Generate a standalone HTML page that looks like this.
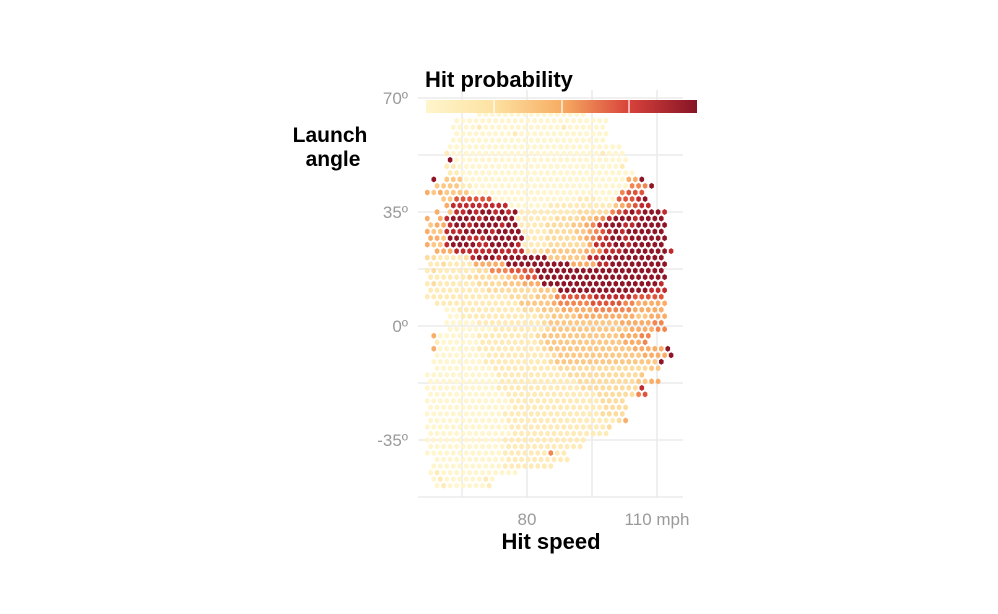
<!DOCTYPE html>
<html><head><meta charset="utf-8">
<style>
body{margin:0;background:#fff;}
svg{display:block;font-family:"Liberation Sans",sans-serif;}
</style></head>
<body>
<svg id="chart" width="998" height="614" viewBox="0 0 998 614">
<defs>
<linearGradient id="cb" x1="0" x2="1" y1="0" y2="0">
<stop offset="0" stop-color="#fff5cc"/><stop offset="0.25" stop-color="#fde2a2"/>
<stop offset="0.5" stop-color="#f7ad63"/><stop offset="0.75" stop-color="#d8423a"/>
<stop offset="1" stop-color="#861426"/></linearGradient>
</defs>
<g id="grid"></g>
<g id="hexes"></g>
<g>
<text x="425" y="87" font-size="22" font-weight="bold" fill="#000">Hit probability</text>
<rect x="426" y="100" width="271" height="13" fill="url(#cb)"/>
<line x1="494" x2="494" y1="100" y2="113" stroke="#fff" stroke-width="1.2"/>
<line x1="562" x2="562" y1="100" y2="113" stroke="#fff" stroke-width="1.2"/>
<line x1="629" x2="629" y1="100" y2="113" stroke="#fff" stroke-width="1.2"/>
</g>
<g id="axes"></g>
<text x="330" y="142" font-size="21" font-weight="bold" text-anchor="middle">Launch</text>
<text x="333" y="166" font-size="21" font-weight="bold" text-anchor="middle">angle</text>
<text x="551" y="549" font-size="22" font-weight="bold" text-anchor="middle">Hit speed</text>
</svg>
<script>
const xTicksMajor=[80,110];
const xTickLabels=["80","110 mph"];
const xTicksMinor=[65,95];
const yTicksMajor=[70,35,0,-35];
const yTickLabels=["70º","35º","0º","-35º"];
const yTicksMinor=[52.5,17.5,-17.5,-52.5];
const colStart=57, colStep=1.5, rowStart=65, rowStep=2;
const levelColors=["none","#fff6d0","#feebb8","#fddca0","#fcc885","#f9ad68","#f28650","#de553c","#bf2a2e","#8e1426"];
const rows=[
"........11111111111111111",
"....111111111111111111111111",
"....111121111111111112111111",
"....111111111211111111111111",
"....111111111111111111111111",
"...111111111111111111111111111",
"...2111111111111111111111112111",
"...9111111111111111111111111111",
"...2211111111111111111111111112",
"...22111111111111111111111111111",
".9.4441111111111111111111111111559",
".4444221111111111111111111111116669",
"5454444111111111111111111111116777",
"..44777777111111111111122211177789",
"...58888888881111112222222222456788",
".5.4889899898922222222233333678989998",
"5.58999989999922222233334456899989999",
"4558998999989922223333445689998899999",
"5448889999899992222333344567898999999",
"5549998889999992223333345678998999999",
"5448999988999982222333333588899899999",
".5558888889888833344444455688899999998",
"3322223899989999999444444889999999999",
"2232222555559999999999555588999999999",
"2322222233666777799999999999999999999",
"2222223333334567799999999999999999999",
"2322222233334445559999999999999999998",
"2222222223333333344499999999999999888",
"2222222222222333344467777788888877777",
".222222222222244444566666777776655555",
"...1122222222223334445555566666655555",
"...1122222222222233444455555555544555",
"...1111122222222223444444444445555566",
"...1111111222222223444444444444555566",
".5111111222222222344444444444455566",
".211111122222222234444444444445556",
".5111111222222222234444444444444555559",
".1111111122222222223444444444444455559",
".111111112222222222344444444444444449",
".11111111122222222223333333333333344",
"1111111111122222222222333333333334",
"111111111112222222222223333333334455",
"1111111111122222222222223333333338",
"1111111111112222222222222233333367",
"1111111111111222222222222223333",
"1111111111111222222222222223333",
"1111111111112222222222222223333",
"1111111111112222222222222222235",
"11111111111112222222222222223",
"1111111111111222222222222222",
"1111111111112222222222222",
"111111111111222222222222",
"1111111111112222222622",
".111111111112222222222",
".1111111111122222222",
"12111111111111",
".1211111121",
".121111112"
];
const NS="http://www.w3.org/2000/svg";
function xs(m){return 527+(m-80)*(130/30);}
function ys(a){return 326-a*(114/35);}
const grid=document.getElementById('grid');
function line(x1,y1,x2,y2,w,name){
  const l=document.createElementNS(NS,'line');
  l.setAttribute('x1',x1);l.setAttribute('y1',y1);l.setAttribute('x2',x2);l.setAttribute('y2',y2);
  l.setAttribute('stroke','#ebebeb');l.setAttribute('stroke-width',w);
  
  
  grid.appendChild(l);
}
xTicksMajor.concat(xTicksMinor).forEach(v=>line(xs(v),90,xs(v),498,1.6,'x-gridline'));
yTicksMajor.concat(yTicksMinor).forEach(v=>line(418,ys(v),683,ys(v),1.6,'y-gridline'));
const axes=document.getElementById('axes');
function txt(x,y,s,anchor,name){
  const t=document.createElementNS(NS,'text');
  t.setAttribute('x',x);t.setAttribute('y',y);t.setAttribute('font-size','17');
  t.setAttribute('fill','#9a9a9a');t.setAttribute('text-anchor',anchor);
  t.textContent=s;
  
  
  axes.appendChild(t);
}
xTicksMajor.forEach((v,i)=>txt(xs(v),525,xTickLabels[i],'middle','x-tick-label'));
yTicksMajor.forEach((v,i)=>txt(408,ys(v)+6,yTickLabels[i],'end','y-tick-label'));
const hg=document.getElementById('hexes');
rows.forEach((r,i)=>{
  const a=rowStart-i*rowStep;
  const off=(i%2)?colStep/2:0;
  for(let j=0;j<r.length;j++){
    const lv=parseInt(r[j]);
    if(!(lv>0))continue;
    const m=colStart+j*colStep+off;
    const cx=xs(m),cy=ys(a);
    const rx=2.3,ry=3.0;
    const pts=[[cx,cy-ry],[cx+rx,cy-ry/2],[cx+rx,cy+ry/2],[cx,cy+ry],[cx-rx,cy+ry/2],[cx-rx,cy-ry/2]].map(p=>p[0].toFixed(1)+','+p[1].toFixed(1)).join(' ');
    const p=document.createElementNS(NS,'polygon');
    p.setAttribute('points',pts);
    p.setAttribute('fill',levelColors[lv]);
    
    
    hg.appendChild(p);
  }
});
</script>
</body></html>
